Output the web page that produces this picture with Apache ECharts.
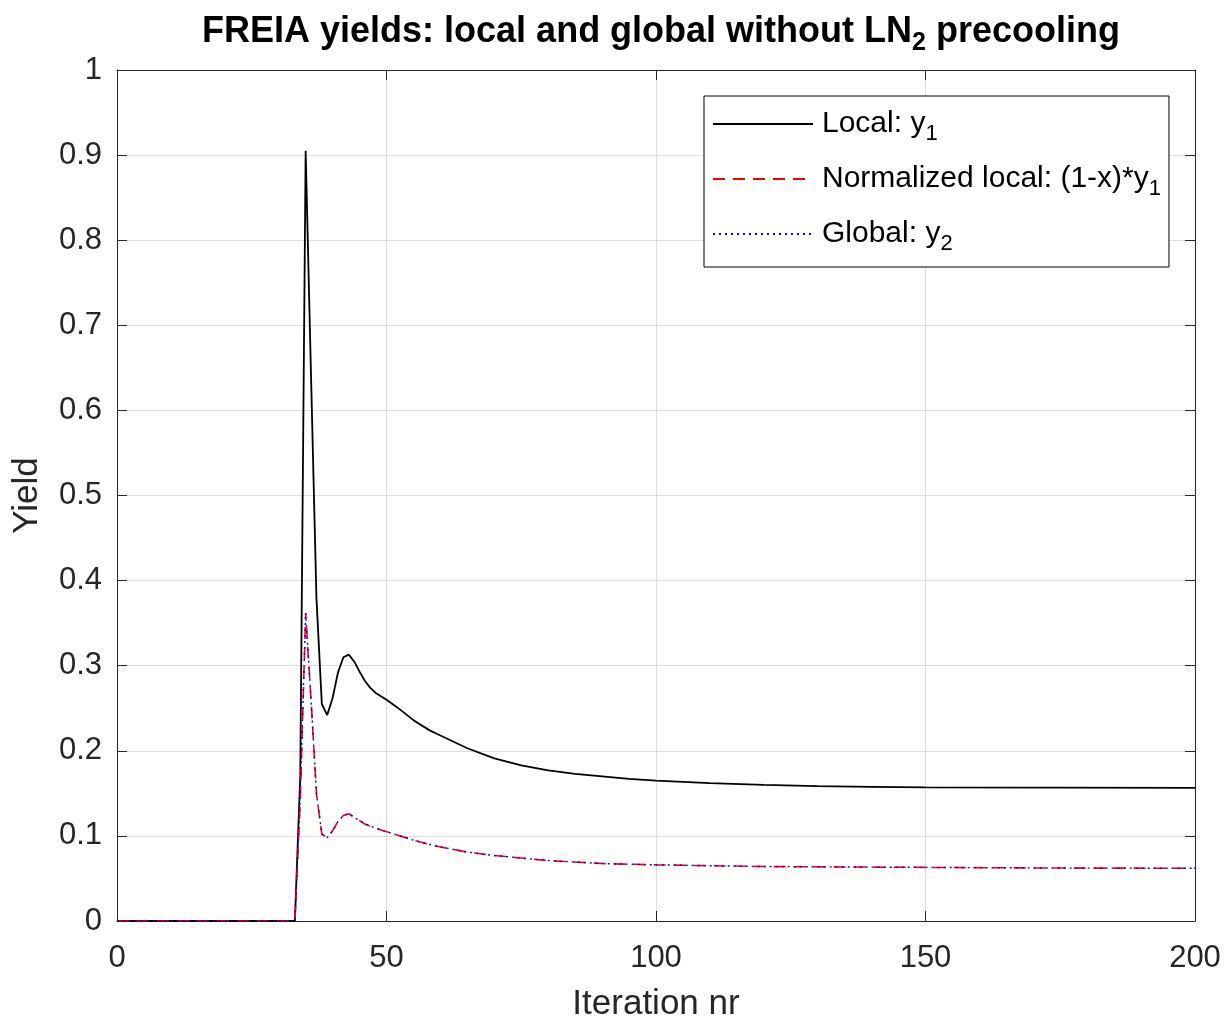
<!DOCTYPE html>
<html>
<head>
<meta charset="utf-8">
<script src="https://cdn.jsdelivr.net/npm/echarts@6/dist/echarts.min.js"></script>
<style>
html,body{margin:0;padding:0;background:#fff;}
#chart{width:1229px;height:1024px;}
</style>
</head>
<body>
<div id="chart"></div>
<script>
// Iteration numbers and yields
var localIter = [0, 33, 34, 35, 36, 37, 38, 39, 40, 41, 42, 43, 44, 45, 46, 47, 48, 50, 52, 55, 58, 60, 65, 70, 75, 80, 85, 90, 95, 100, 110, 120, 130, 140, 150, 175, 200];
var localY    = [0, 0, 0.17, 0.905, 0.64, 0.38, 0.255, 0.242, 0.262, 0.292, 0.31, 0.313, 0.305, 0.293, 0.282, 0.274, 0.268, 0.260, 0.251, 0.236, 0.224, 0.218, 0.203, 0.191, 0.183, 0.177, 0.173, 0.170, 0.167, 0.165, 0.162, 0.160, 0.1585, 0.1577, 0.157, 0.1567, 0.1565];

var normIter = [0, 33, 34, 35, 36, 37, 38, 39, 40, 41, 42, 43, 44, 45, 46, 48, 50, 55, 58, 60, 65, 70, 75, 80, 90, 100, 120, 150, 175, 200];
var normY    = [0, 0, 0.14, 0.362, 0.26, 0.15, 0.102, 0.098, 0.106, 0.117, 0.124, 0.126, 0.122, 0.118, 0.114, 0.109, 0.105, 0.095, 0.090, 0.087, 0.081, 0.077, 0.074, 0.071, 0.0675, 0.066, 0.064, 0.063, 0.0622, 0.062];

var globalIter = [0, 33, 34, 35, 36, 37, 38, 39, 40, 41, 42, 43, 44, 45, 46, 48, 50, 55, 58, 60, 65, 70, 75, 80, 90, 100, 120, 150, 175, 200];
var globalY    = [0, 0, 0.15, 0.362, 0.26, 0.15, 0.102, 0.098, 0.106, 0.117, 0.124, 0.126, 0.122, 0.118, 0.114, 0.109, 0.105, 0.095, 0.090, 0.087, 0.081, 0.077, 0.074, 0.071, 0.0675, 0.066, 0.064, 0.063, 0.0622, 0.062];

var seriesNames = ['Local: y1', 'Normalized local: (1-x)*y1', 'Global: y2'];
var legendLabels = ['Local: y{sub|1}', 'Normalized local: (1-x)*y{sub|1}', 'Global: y{sub|2}'];
var xTicks = [0, 50, 100, 150, 200];
var yTicks = [0, 0.1, 0.2, 0.3, 0.4, 0.5, 0.6, 0.7, 0.8, 0.9, 1];

function pairs(xs, ys){ return xs.map(function(x,i){ return [x, ys[i]]; }); }

var FONT = 'Liberation Sans, Arial, Helvetica, sans-serif';
var AX = '#262626';
var chart = echarts.init(document.getElementById('chart'), null, {renderer:'canvas'});
var axisCommon = {
  type: 'value',
  axisLine: {show: true, onZero: false, lineStyle: {color: AX, width: 1}},
  axisTick: {show: true, inside: true, length: 10, lineStyle: {color: AX, width: 1}},
  splitLine: {show: false},
  axisLabel: {show: false}
};
var option = {
  backgroundColor: '#ffffff',
  animation: false,
  title: {
    text: 'FREIA yields: local and global without LN{sub|2} precooling',
    left: 656, textAlign: 'center', top: 4,
    textStyle: {
      fontFamily: FONT, fontSize: 36, fontWeight: 'bold', color: '#000',
      rich: {
        sub: {fontFamily: FONT, fontSize: 25, fontWeight: 'bold', color: '#000', padding: [22, 0, 0, 0]}
      }
    }
  },
  grid: {left: 117, right: 34, top: 70, bottom: 103, outerBoundsMode: 'none', containLabel: false},
  legend: {
    orient: 'vertical', left: 704, top: 96,
    backgroundColor: '#fff', borderColor: '#000', borderWidth: 1,
    padding: [13, 8, 12, 8],
    itemGap: 19, itemWidth: 100, itemHeight: 14,
    itemStyle: {opacity: 0},
    formatter: function(name){ return legendLabels[seriesNames.indexOf(name)]; },
    textStyle: {
      fontFamily: FONT, fontSize: 30, color: '#000', padding: [0, 0, 0, 4],
      rich: { sub: {fontFamily: FONT, fontSize: 22, color: '#000', padding: [20, 0, 0, 0]} }
    },
    data: seriesNames
  },
  xAxis: [
    Object.assign({}, axisCommon, {
      position: 'bottom', min: 0, max: 200, interval: 50,
      name: 'Iteration nr', nameLocation: 'middle', nameGap: 66,
      nameTextStyle: {fontFamily: FONT, fontSize: 35, color: AX},
      axisLabel: {show: true, fontFamily: FONT, fontSize: 31, color: AX, margin: 22},
      splitLine: {show: true, lineStyle: {color: '#dedede', width: 1}}
    }),
    Object.assign({}, axisCommon, {position: 'top', min: 0, max: 200, interval: 50})
  ],
  yAxis: [
    Object.assign({}, axisCommon, {
      position: 'left', min: 0, max: 1, interval: 0.1,
      name: 'Yield', nameLocation: 'middle', nameGap: 72, nameRotate: 90,
      nameTextStyle: {fontFamily: FONT, fontSize: 35, color: AX},
      axisLabel: {show: true, fontFamily: FONT, fontSize: 31, color: AX, margin: 15},
      splitLine: {show: true, lineStyle: {color: '#dedede', width: 1}}
    }),
    Object.assign({}, axisCommon, {position: 'right', min: 0, max: 1, interval: 0.1})
  ],
  series: [
    {name: seriesNames[0], type: 'line', data: pairs(localIter, localY), symbol: 'none',
     lineStyle: {color: '#000', width: 1.8, type: 'solid'}, itemStyle: {color: '#000'}},
    {name: seriesNames[1], type: 'line', data: pairs(normIter, normY), symbol: 'none',
     lineStyle: {color: '#ff0000', width: 1.6, type: [12, 8]}, itemStyle: {color: '#ff0000'}},
    {name: seriesNames[2], type: 'line', data: pairs(globalIter, globalY), symbol: 'none',
     lineStyle: {color: '#0000ff', width: 1.4, type: [2, 4]}, itemStyle: {color: '#0000ff'}}
  ]
};
chart.setOption(option);
</script>
</body>
</html>
